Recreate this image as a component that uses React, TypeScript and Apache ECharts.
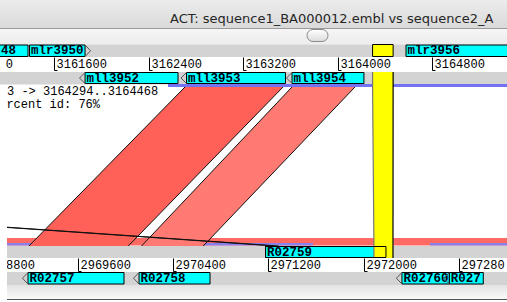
import React, { useEffect, useRef } from "react";
import * as echarts from "echarts";

// ---------- data ----------
const TITLE = "ACT: sequence1_BA000012.embl vs sequence2_A";
const TOOLTIP_LINES = ["3 -> 3164294..3164468", "Percent id: 76%"];

const topTicks = [3160800, 3161600, 3162400, 3163200, 3164000, 3164800];
const bottomTicks = [2968800, 2969600, 2970400, 2971200, 2972000, 2972800];

const topForwardNames = ["mlr3948", "mlr3950", "mlr3956"];
const topForwardStarts = [3160818, 3161390, 3164577];
const topForwardEnds = [3161377, 3161860, 3165600];

const topReverseNames = ["mll3952", "mll3953", "mll3954"];
const topReverseStarts = [3161860, 3162719, 3163612];
const topReverseEnds = [3162647, 3163557, 3164221];

const bottomForwardNames = ["R02759"];
const bottomForwardStarts = [2971177];
const bottomForwardEnds = [2972188];

const bottomReverseNames = ["R02757", "R02758", "R02760", "R02761"];
const bottomReverseStarts = [2969183, 2970115, 2972322, 2972720];
const bottomReverseEnds = [2969989, 2970711, 2972720, 2973005];

const hitTopStarts = [3162706, 3163612, 3144030];
const hitTopEnds = [3163536, 3164145, 3144060];
const hitBottomStarts = [2969191, 2970136, 2971258];
const hitBottomEnds = [2970025, 2970654, 2971288];
const hitPercentIds = [82, 74, 70];

const selectedTop = [3164294, 3164468];
const selectedBottom = [2972087, 2972247];

const topTrackStarts = [3162562];
const topTrackEnds = [3165600];
const bottomTrackStarts = [2969006, 2972250];
const bottomTrackEnds = [2972090, 2973300];
const bottomTrack2Starts = [2969006, 2970517, 2972557];
const bottomTrack2Ends = [2969367, 2971575, 2973300];

// ---------- layout ----------
const W = 507;
const H = 302;
const TOP_MIN = 3161140;
const TOP_MAX = 3165432;
const BOT_MIN = 2968948;
const BOT_MAX = 2973204;

const Y = {
  topFwd: [45, 56.5],
  topTick: [57.5, 70.5],
  topRev: [72.5, 83.5],
  cmpTop: 87,
  cmpBot: 246,
  botFwd: [246.5, 257.5],
  botTick: [258.5, 271.5],
  botRev: [272.5, 284],
};

const MONO = "'Liberation Mono', 'DejaVu Sans Mono', monospace";
const LABEL_SIZE = 12.5;
const TICK_SIZE = 12;
const LABEL_FONT = `bold ${LABEL_SIZE}px ${MONO}`;
const TICK_FONT = `${TICK_SIZE}px ${MONO}`;
const TIP_FONT = `12px ${MONO}`;

// emulate the panel clipping of a monospace label: drop the characters hidden past an edge
function clipMono(text: string, x: number, charW: number, left: number, right: number) {
  let t = text;
  let nx = x;
  if (nx < left) {
    const n = Math.ceil((left - nx - 1.5) / charW);
    t = t.slice(n);
    nx += n * charW;
  }
  const fit = Math.floor((right + 1 - nx) / charW);
  if (fit < t.length) t = t.slice(0, Math.max(0, fit));
  return { text: t, x: nx };
}

function textStyle(text: string, font: string, extra: any = {}) {
  return {
    text,
    font,
    fill: "#000",
    align: "left",
    verticalAlign: "middle",
    textAlign: "left",
    textVerticalAlign: "middle",
    ...extra,
  };
}

function featureSeries(
  id: string,
  xAxisIndex: number,
  names: string[],
  starts: number[],
  ends: number[],
  strand: number,
  yr: number[],
  leftEdge: number,
  outlineOnly: boolean
) {
  return {
    type: "custom",
    id,
    xAxisIndex,
    yAxisIndex: 0,
    z: outlineOnly ? 8 : 5,
    silent: true,
    data: names.map((_, i) => [starts[i], ends[i]]),
    renderItem: (params: any, api: any) => {
      const p0 = api.coord([api.value(0), yr[0]]);
      const p1 = api.coord([api.value(1), yr[1]]);
      const x0 = p0[0];
      const x1 = p1[0];
      const y0 = p0[1];
      const y1 = p1[1];
      const mid = (y0 + y1) / 2;
      if (outlineOnly) {
        return {
          type: "rect",
          shape: { x: x0, y: y0, width: x1 - x0, height: y1 - y0 },
          style: { fill: "none", stroke: "#000", lineWidth: 1 },
        };
      }
      const arrow =
        strand > 0
          ? [[x1, y0], [x1 + 5.5, mid], [x1, y1]]
          : [[x0, y0], [x0 - 5.5, mid], [x0, y1]];
      const lab = clipMono(names[params.dataIndex], x0 + 1.5, LABEL_SIZE * 0.6, leftEdge, Math.min(W, x1));
      return {
        type: "group",
        children: [
          {
            type: "rect",
            shape: { x: x0, y: y0, width: x1 - x0, height: y1 - y0 },
            style: { fill: "#00ffff", stroke: "#000", lineWidth: 1 },
          },
          {
            type: "polyline",
            shape: { points: arrow },
            style: { fill: "none", stroke: "#555", lineWidth: 1 },
          },
          {
            type: "text",
            x: lab.x,
            y: mid + 0.5,
            style: textStyle(lab.text, LABEL_FONT, { fill: "#001", lineHeight: 11 }),
          },
        ],
      };
    },
  };
}

function tickSeries(id: string, xAxisIndex: number, ticks: number[], yr: number[], leftEdge: number) {
  return {
    type: "custom",
    id,
    xAxisIndex,
    yAxisIndex: 0,
    z: 5,
    silent: true,
    data: ticks.map((v) => [v]),
    renderItem: (params: any, api: any) => {
      const v = api.value(0);
      const p = api.coord([v, yr[0]]);
      const q = api.coord([v, yr[1]]);
      const x = Math.round(p[0]) + 0.5;
      const lab = clipMono(String(ticks[params.dataIndex]), x + 2, TICK_SIZE * 0.6, leftEdge, W);
      return {
        type: "group",
        children: [
          { type: "line", shape: { x1: x, y1: p[1], x2: x, y2: q[1] }, style: { stroke: "#000", lineWidth: 1 } },
          { type: "line", shape: { x1: x, y1: q[1], x2: x + 3, y2: q[1] }, style: { stroke: "#000", lineWidth: 1 } },
          {
            type: "text",
            x: lab.x,
            y: (p[1] + q[1]) / 2 + 1,
            style: textStyle(lab.text, TICK_FONT, { lineHeight: 12 }),
          },
        ],
      };
    },
  };
}

function trackSeries(id: string, xAxisIndex: number, starts: number[], ends: number[], y0: number, y1: number, color: string, z: number) {
  return {
    type: "custom",
    id,
    xAxisIndex,
    yAxisIndex: 0,
    z,
    silent: true,
    data: starts.map((s, i) => [s, ends[i]]),
    renderItem: (params: any, api: any) => {
      const a = api.coord([api.value(0), y0]);
      const b = api.coord([api.value(1), y1]);
      return {
        type: "rect",
        shape: { x: a[0], y: a[1], width: b[0] - a[0], height: b[1] - a[1] },
        style: { fill: color },
      };
    },
  };
}

export default function App() {
  const ref = useRef<HTMLDivElement>(null);

  useEffect(() => {
    const chart = echarts.init(ref.current as HTMLDivElement, null, { renderer: "svg" });
    const botPx = (v: number): number => chart.convertToPixel({ xAxisIndex: 1 } as any, v) as any;

    const hitsSeries = {
      type: "custom",
      id: "hits",
      xAxisIndex: 0,
      yAxisIndex: 0,
      z: 4,
      silent: true,
      data: hitTopStarts.map((s, i) => [s, hitTopEnds[i], hitBottomStarts[i], hitBottomEnds[i], hitPercentIds[i]]),
      renderItem: (params: any, api: any) => {
        const a = api.coord([api.value(0), Y.cmpTop]);
        const b = api.coord([api.value(1), Y.cmpTop]);
        const d = botPx(api.value(2));
        const c = botPx(api.value(3));
        const yb = api.coord([api.value(0), Y.cmpBot])[1];
        const fill = api.value(4) >= 80 ? "#ff6058" : "#ff7a72";
        return {
          type: "group",
          children: [
            {
              type: "polygon",
              shape: { points: [[a[0], a[1]], [b[0], b[1]], [c, yb], [d, yb]] },
              style: { fill },
            },
            { type: "line", shape: { x1: a[0], y1: a[1], x2: d, y2: yb }, style: { stroke: "#111", lineWidth: 1 } },
            { type: "line", shape: { x1: b[0], y1: b[1], x2: c, y2: yb }, style: { stroke: "#111", lineWidth: 1 } },
          ],
        };
      },
    };

    const selectionSeries = {
      type: "custom",
      id: "selection",
      xAxisIndex: 0,
      yAxisIndex: 0,
      z: 7,
      silent: true,
      data: [[selectedTop[0], selectedTop[1], selectedBottom[0], selectedBottom[1]]],
      renderItem: (params: any, api: any) => {
        const tA = api.coord([api.value(0), Y.topFwd[0]]);
        const tB = api.coord([api.value(1), Y.topFwd[1]]);
        const rA = api.coord([api.value(0), 72])[1];
        const cT = api.coord([api.value(0), Y.cmpTop])[1];
        const cB = api.coord([api.value(0), Y.cmpBot])[1];
        const bEnd = api.coord([api.value(0), 258])[1];
        const bl = botPx(api.value(2));
        const br = botPx(api.value(3));
        return {
          type: "group",
          children: [
            {
              type: "rect",
              shape: { x: tA[0], y: tA[1] - 0.5, width: tB[0] - tA[0], height: tB[1] - tA[1] + 0.5 },
              style: { fill: "#ffff00", stroke: "#000", lineWidth: 1 },
            },
            {
              type: "polygon",
              shape: { points: [[tA[0], rA], [tB[0], rA], [tB[0], cT], [br, cB], [br, bEnd], [bl, bEnd], [bl, cB], [tA[0], cT]] },
              style: { fill: "#ffff00" },
            },
            {
              type: "polyline",
              shape: { points: [[tA[0], rA], [tA[0], cT], [bl, cB], [bl, bEnd]] },
              style: { fill: "none", stroke: "#777", lineWidth: 1.2 },
            },
            {
              type: "polyline",
              shape: { points: [[tB[0], rA], [tB[0], cT], [br, cB], [br, bEnd]] },
              style: { fill: "none", stroke: "#000", lineWidth: 1.2 },
            },
          ],
        };
      },
    };

    const tip2 = clipMono(TOOLTIP_LINES[1], -8, 7.2, 7, W);
    const gray = "#d3d3d3";
    const option: any = {
      animation: false,
      grid: [{ left: 0, right: 0, top: 0, bottom: 0 }],
      xAxis: [
        { type: "value", gridIndex: 0, min: TOP_MIN, max: TOP_MAX, show: false },
        { type: "value", gridIndex: 0, min: BOT_MIN, max: BOT_MAX, show: false },
      ],
      yAxis: [{ type: "value", gridIndex: 0, min: 0, max: H, inverse: true, show: false }],
      graphic: [
        {
          type: "rect",
          z: 1,
          shape: { x: 0, y: 0, width: W, height: 29 },
          style: { fill: new echarts.graphic.LinearGradient(0, 0, 0, 1, [{ offset: 0, color: "#ececec" }, { offset: 1, color: "#d9d9d9" }]) },
        },
        { type: "line", z: 1, shape: { x1: 0, y1: 28.5, x2: W, y2: 28.5 }, style: { stroke: "#9a9a9a", lineWidth: 1 } },
        {
          type: "rect",
          z: 1,
          shape: { x: 0, y: 29, width: W, height: 15.5 },
          style: { fill: new echarts.graphic.LinearGradient(0, 0, 0, 1, [{ offset: 0, color: "#f6f6f6" }, { offset: 1, color: "#ececec" }]) },
        },
        {
          type: "rect",
          z: 2,
          shape: { x: 307, y: 29.5, width: 21, height: 12, r: 6 },
          style: { fill: new echarts.graphic.LinearGradient(0, 0, 0, 1, [{ offset: 0, color: "#ffffff" }, { offset: 1, color: "#dcdcdc" }]), stroke: "#8a8a8a", lineWidth: 1 },
        },
        {
          type: "text",
          z: 2,
          x: 170,
          y: 18,
          style: textStyle(TITLE, "13px 'DejaVu Sans', sans-serif", { fill: "#262626" }),
        },
        { type: "rect", z: 1, shape: { x: 0, y: 44.5, width: W, height: 12.5 }, style: { fill: gray } },
        { type: "rect", z: 1, shape: { x: 0, y: 72, width: W, height: 12.5 }, style: { fill: gray } },
        { type: "rect", z: 1, shape: { x: 7, y: 246, width: W - 7, height: 12 }, style: { fill: gray } },
        { type: "rect", z: 1, shape: { x: 7, y: 272, width: W - 7, height: 13 }, style: { fill: gray } },
        {
          type: "rect",
          z: 1,
          shape: { x: 7, y: 285, width: W - 7, height: 14.5 },
          style: { fill: new echarts.graphic.LinearGradient(0, 0, 0, 1, [{ offset: 0, color: "#e2e2e2" }, { offset: 1, color: "#fbfbfb" }]) },
        },
        { type: "line", z: 1, shape: { x1: 7, y1: 299.5, x2: W, y2: 299.5 }, style: { stroke: "#555", lineWidth: 1 } },
        {
          type: "text",
          z: 30,
          x: 7,
          y: 91.5,
          style: textStyle(TOOLTIP_LINES[0], TIP_FONT, { lineHeight: 12 }),
        },
        {
          type: "text",
          z: 30,
          x: tip2.x,
          y: 104.5,
          style: textStyle(tip2.text, TIP_FONT, { lineHeight: 12 }),
        },
        { type: "rect", z: 50, shape: { x: 0, y: 85, width: 7, height: H - 85 }, style: { fill: "#ffffff" } },
      ],
      series: [
        trackSeries("topTrack", 0, topTrackStarts, topTrackEnds, 84, 87, "#7272f2", 3),
        trackSeries("bottomTrack", 1, bottomTrackStarts, bottomTrackEnds, 238, 245.5, "#ff6b64", 3),
        trackSeries("bottomTrack2", 1, bottomTrack2Starts, bottomTrack2Ends, 243, 245.5, "#8a80ec", 3),
        hitsSeries,
        featureSeries("topFwd", 0, topForwardNames, topForwardStarts, topForwardEnds, 1, Y.topFwd, 0, false),
        featureSeries("topRev", 0, topReverseNames, topReverseStarts, topReverseEnds, -1, Y.topRev, 0, false),
        featureSeries("botFwd", 1, bottomForwardNames, bottomForwardStarts, bottomForwardEnds, 1, Y.botFwd, 7, false),
        featureSeries("botRev", 1, bottomReverseNames, bottomReverseStarts, bottomReverseEnds, -1, Y.botRev, 7, false),
        tickSeries("topTicks", 0, topTicks, Y.topTick, 0),
        tickSeries("botTicks", 1, bottomTicks, Y.botTick, 7),
        selectionSeries,
        featureSeries("botFwdOutline", 1, bottomForwardNames, bottomForwardStarts, bottomForwardEnds, 1, Y.botFwd, 7, true),
      ],
    };

    chart.setOption(option);
    return () => chart.dispose();
  }, []);

  return <div ref={ref} style={{ position: "absolute", left: 0, top: 0, width: W, height: H }} />;
}
